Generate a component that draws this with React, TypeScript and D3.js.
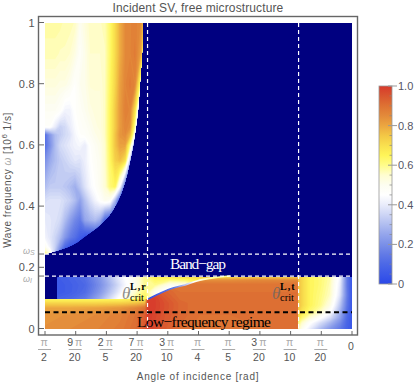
import React from "react";
import * as d3 from "d3";

// angles are in units of pi/20, frequencies in 10^6 1/s
const colorStops = ["#2b48e8", "#3b58e8", "#4c68e6", "#627ae6", "#7b90e8", "#94a5ec", "#b0bdf0", "#cdd5f5", "#e9ecfb", "#ffffff", "#fdfdf0", "#fffdd0", "#fffc8a", "#fff558", "#f9e04f", "#f3c745", "#eca640", "#e38a3a", "#de7233", "#d9562f", "#d8392b"];

const upperAngles = [10, 9.84, 9.67, 9.51, 9.35, 9.19, 9.02, 8.86, 8.7, 8.53, 8.37, 8.21, 8.05, 7.88, 7.72, 7.56, 7.39, 7.23, 7.07, 6.9, 6.71];
const upperFreqs = [1, 0.9, 0.8, 0.715, 0.66, 0.635, 0.6, 0.55, 0.465, 0.42, 0.355, 0.3, 0.268, 0.245];
const upperValues = [
  [.58, .58, .58, .58, .57, .57, .56, .50, .53, .56, .56, .56, .57, .63, .71, .79, .85, .86, .87, .85, .70],
  [.57, .57, .57, .56, .56, .55, .52, .48, .51, .55, .55, .55, .56, .63, .71, .79, .85, .86, .88, .82, .60],
  [.53, .53, .53, .52, .52, .50, .46, .50, .51, .54, .54, .54, .56, .64, .72, .81, .86, .88, .86, .62, .30],
  [.49, .49, .49, .47, .42, .42, .46, .48, .50, .52, .53, .53, .56, .65, .74, .82, .87, .86, .70, .30, .20],
  [.46, .46, .40, .34, .36, .40, .44, .47, .48, .50, .52, .53, .56, .65, .74, .82, .86, .84, .58, .20, .10],
  [.12, .22, .30, .33, .36, .38, .43, .46, .47, .49, .51, .52, .56, .65, .75, .83, .85, .78, .48, .15, .10],
  [.12, .20, .30, .36, .38, .40, .42, .43, .40, .46, .49, .51, .55, .65, .75, .81, .81, .60, .22, .10, .10],
  [.20, .26, .30, .33, .35, .37, .39, .38, .41, .45, .48, .50, .55, .64, .73, .76, .70, .32, .10, .10, .10],
  [.30, .33, .33, .33, .32, .30, .27, .32, .38, .43, .46, .50, .54, .62, .65, .44, .10, .05, .05, .05, .05],
  [.37, .38, .38, .38, .36, .34, .30, .24, .31, .37, .42, .46, .50, .48, .30, .08, .05, .05, .05, .05, .05],
  [.40, .39, .38, .36, .30, .24, .18, .15, .25, .28, .30, .26, .10, .05, .05, .05, .05, .05, .05, .05, .05],
  [.42, .39, .35, .30, .22, .16, .12, .07, .03, .03, .03, .03, .03, .03, .03, .03, .03, .03, .03, .03, .03],
  [.50, .42, .34, .22, .10, .05, .03, .03, .03, .03, .03, .03, .03, .03, .03, .03, .03, .03, .03, .03, .03],
  [.62, .55, .30, .10, .03, .03, .03, .03, .03, .03, .03, .03, .03, .03, .03, .03, .03, .03, .03, .03, .03],
];
// right edge of the upper lobe
const edgeFreqs = [1, 0.9, 0.8, 0.715, 0.66, 0.6, 0.55, 0.465, 0.42, 0.355, 0.3, 0.268, 0.245];
const edgeAngles = [6.81, 6.84, 6.91, 6.97, 7.04, 7.13, 7.23, 7.44, 7.62, 8.05, 8.73, 9.25, 10];

const bandAngles = [9.61, 9.19, 8.7, 8.21, 7.72, 7.39, 7.07, 6.74, 6.42, 5.93, 5.44, 4.95, 4.46, 3.81];
const bandFreqs = [0.17, 0.144, 0.121, 0.098];
const bandValues = [
  [.06, .08, .12, .22, .36, .45, .52, .60, .66, .68, .70, .72, .74, .76],
  [.05, .07, .10, .20, .33, .43, .50, .60, .60, .50, .50, .60, .70, .76],
  [.05, .07, .11, .22, .36, .47, .55, .62, .50, .40, .40, .50, .60, .70],
  [.08, .10, .15, .27, .42, .52, .60, .66, .50, .40, .40, .50, .60, .70],
];

const lowAngles = [10, 9.19, 8.37, 7.56, 7.07, 6.74, 6.645, 6.42, 6.09, 5.6, 4.95, 3.97, 2.83, 1.76];
const lowFreqs = [0.17, 0.16, 0.147, 0.121, 0.098, 0.085, 0.069, 0.046, 0];
const lowValues = [
  [.78, .78, .78, .78, .78, .78, .78, .78, .78, .76, .74, .72, .74, .74],
  [.84, .84, .84, .84, .84, .84, .84, .84, .84, .84, .84, .84, .85, .85],
  [.89, .89, .89, .89, .89, .89, .92, .92, .90, .89, .89, .89, .89, .89],
  [.64, .64, .64, .64, .66, .68, .98, .96, .93, .90, .90, .90, .90, .90],
  [.64, .64, .64, .64, .66, .68, 1, .99, .95, .91, .90, .90, .90, .90],
  [.72, .72, .72, .73, .75, .78, 1, .99, .96, .92, .90, .90, .90, .90],
  [.80, .80, .81, .83, .86, .90, 1, .99, .96, .92, .90, .90, .90, .90],
  [.83, .84, .85, .87, .90, .94, 1, .98, .95, .92, .90, .90, .90, .90],
  [.84, .85, .86, .88, .91, .95, .99, .97, .94, .91, .89, .89, .90, .90],
];
// top of the orange region, right of the first critical angle
const ridgeAngles = [6.64, 6.16, 5.83, 5.44, 5.05, 4.53, 3.97];
const ridgeFreqs = [0.098, 0.121, 0.134, 0.144, 0.157, 0.167, 0.173];

const rightAngles = [1.76, 1.63, 1.37, 1.04, 0.72, 0.39, 0.16, 0];
const rightFreqs = [0.17, 0.144, 0.111, 0.078, 0.056, 0.036, 0.02, 0];
const rightValues = [
  [.76, .72, .65, .62, .58, .42, .15, .05],
  [.77, .72, .65, .62, .57, .40, .15, .05],
  [.77, .72, .65, .61, .56, .38, .16, .05],
  [.77, .72, .65, .60, .52, .32, .14, .05],
  [.75, .69, .62, .56, .46, .28, .12, .05],
  [.70, .62, .54, .46, .37, .24, .10, .05],
  [.62, .55, .46, .37, .29, .19, .09, .05],
  [.58, .50, .40, .30, .22, .15, .08, .05],
];

const critAngles = [6.66, 1.74];
const bandEdges = [0.245, 0.173];
const lowFreqLine = 0.055;

const yTicks = [0, 0.2, 0.4, 0.6, 0.8, 1];
const yTickLabels = ["0", "0.2", "0.4", "0.6", "0.8", "1"];
const xTickAngles = [10, 9, 8, 7, 6, 5, 4, 3, 2, 1];
const xTickNums = ["", "9", "2", "7", "3", "", "", "3", "", ""];
const xTickDens = ["2", "20", "5", "20", "10", "4", "5", "20", "10", "20"];
const barTicks = [0, 0.2, 0.4, 0.6, 0.8, 1];
const barLabels = ["0", "0.2", "0.4", "0.6", "0.8", "1.0"];
const barMinor = [0.05, 0.1, 0.15, 0.25, 0.3, 0.35, 0.45, 0.5, 0.55, 0.65, 0.7, 0.75, 0.85, 0.9, 0.95];

const x = d3.scaleLinear().domain([10, 0]).range([45, 352]);
const y = d3.scaleLinear().domain([0, 1]).range([329, 23]);
const barY = d3.scaleLinear().domain([0, 1]).range([284, 86]);
const color = d3.scaleLinear<string>().domain(colorStops.map((_, i) => i / 20)).range(colorStops).clamp(true);
const levels = d3.range(0, 1, 0.0125);

const SANS = "'Liberation Sans', Arial, sans-serif";
const SERIF = "'Liberation Serif', serif";
const GREY = "#666";
const TXT = "#555";
const PALE = "#aaa";

function Field({ angles, freqs, values, clip }: { angles: number[]; freqs: number[]; values: number[][]; clip: string }) {
  const n = angles.length;
  const m = freqs.length;
  const sx = d3.scaleLinear().domain(d3.range(n)).range(angles.map((a) => x(a))).clamp(true);
  const sy = d3.scaleLinear().domain(d3.range(m)).range(freqs.map((f) => y(f))).clamp(true);
  const path = d3.geoPath(
    d3.geoTransform({
      point(px, py) {
        this.stream.point(sx(px - 0.5), sy(py - 0.5));
      },
    })
  );
  const bands = d3.contours().size([n, m]).thresholds(levels)(values.flat());
  return (
    <g clipPath={`url(#${clip})`}>
      {bands.map((b) => (
        <path key={b.value} d={path(b) ?? ""} fill={color(b.value + 0.006)} />
      ))}
    </g>
  );
}

function Crit({ tx, sup }: { tx: number; sup: string }) {
  return (
    <g fontFamily={SERIF}>
      <text x={tx} y={299} fontSize={17} fontStyle="italic" fill="#666" opacity={0.75}>θ</text>
      <text x={tx + 8} y={290} fontSize={10} fontWeight="bold" letterSpacing={1} fill="#000">{sup}</text>
      <text x={tx + 8} y={301} fontSize={10.5} fill="#000">crit</text>
    </g>
  );
}

export default function App() {
  const upperEdge = d3.line<number>().x((_, i) => x(edgeAngles[i])).y((f) => y(f)).curve(d3.curveMonotoneY)(edgeFreqs) ?? "";
  const upperClip = `${upperEdge}L${x(10)},${y(0.245)}L${x(10)},${y(1)}Z`;
  const ridge = d3.line<number>().x((a) => x(a)).y((_, i) => y(ridgeFreqs[i])).curve(d3.curveMonotoneX)(ridgeAngles) ?? "";
  const lowClip = `M${x(10)},${y(0.098)}L${x(ridgeAngles[0])},${y(0.098)}${ridge.replace(/^M[^CL]*/, "L" + x(ridgeAngles[0]) + "," + y(ridgeFreqs[0]))}L${x(3.97)},${y(0.173)}L${x(1.74)},${y(0.173)}L${x(1.74)},${y(0)}L${x(10)},${y(0)}Z`;

  return (
    <svg width={420} height={385} style={{ position: "absolute", left: 0, top: 0, background: "#fff" }}>
      <defs>
        <clipPath id="upper"><path d={upperClip} /></clipPath>
        <clipPath id="band"><rect x={x(9.61)} y={y(0.17)} width={x(3.81) - x(9.61)} height={y(0.098) - y(0.17)} rx={2} /></clipPath>
        <clipPath id="low"><path d={lowClip} /></clipPath>
        <clipPath id="right"><rect x={x(1.74)} y={y(0.173)} width={x(0) - x(1.74)} height={y(0) - y(0.173)} /></clipPath>
        <linearGradient id="barFill" x1="0" y1="1" x2="0" y2="0">
          {colorStops.map((c, i) => <stop key={i} offset={i / 20} stopColor={c} />)}
        </linearGradient>
        <linearGradient id="streak" gradientUnits="userSpaceOnUse" x1={x(ridgeAngles[0])} y1={0} x2={x(4.5)} y2={0}>
          <stop offset={0} stopColor={color(0.02)} />
          <stop offset={0.4} stopColor={color(0.15)} />
          <stop offset={0.7} stopColor={color(0.45)} />
          <stop offset={1} stopColor={color(0.6)} />
        </linearGradient>
      </defs>

      <text x={198} y={12} textAnchor="middle" fontFamily={SANS} fontSize={12} letterSpacing={0.12} fill={TXT}>Incident SV, free microstructure</text>

      <rect x={x(10)} y={y(1)} width={x(0) - x(10)} height={y(0) - y(1)} fill="#000080" />
      <Field angles={upperAngles} freqs={upperFreqs} values={upperValues} clip="upper" />
      <Field angles={bandAngles} freqs={bandFreqs} values={bandValues} clip="band" />
      <Field angles={lowAngles} freqs={lowFreqs} values={lowValues} clip="low" />
      <path d={ridge} fill="none" stroke="url(#streak)" strokeWidth={1.6} />
      <Field angles={rightAngles} freqs={rightFreqs} values={rightValues} clip="right" />

      {critAngles.map((a) => (
        <line key={a} x1={x(a)} x2={x(a)} y1={y(1)} y2={y(0)} stroke="#fff" strokeWidth={1.2} strokeDasharray="4 3" />
      ))}
      {bandEdges.map((f) => (
        <line key={f} x1={x(10)} x2={x(0)} y1={y(f)} y2={y(f)} stroke="#fff" strokeWidth={1.2} strokeDasharray="4 3" />
      ))}
      <line x1={x(10)} x2={x(0)} y1={y(lowFreqLine)} y2={y(lowFreqLine)} stroke="#000" strokeWidth={2} strokeDasharray="5 3.5" />

      <text x={170} y={269} fontFamily={SERIF} fontSize={15.5} fill="#fff" textLength={56}>Band−gap</text>
      <text x={137} y={327} fontFamily={SERIF} fontSize={15.5} fill="#000" textLength={134}>Low−frequency regime</text>
      <Crit tx={122} sup="L,r" />
      <Crit tx={272} sup="L,t" />

      <rect x={38.5} y={16.5} width={319} height={318.5} fill="none" stroke={GREY} strokeWidth={1.4} />

      <g fontFamily={SANS} fontSize={11} fill={TXT} letterSpacing={0.3}>
        {yTicks.map((t, i) => (
          <g key={t}>
            <line x1={38.5} x2={44} y1={y(t) - 0.5} y2={y(t) - 0.5} stroke={GREY} />
            <text x={35} y={y(t) + 3.5} textAnchor="end">{yTickLabels[i]}</text>
          </g>
        ))}
      </g>
      {bandEdges.map((f, i) => (
        <g key={f}>
          <line x1={38.5} x2={44} y1={y(f)} y2={y(f)} stroke={GREY} />
          <text x={23} y={y(f) + (i === 0 ? 0 : 6)} fontFamily={SANS} fontStyle="italic" fontSize={9} fill={PALE}>ω
            <tspan fontSize={7} dy={1}>{i === 0 ? "S" : "I"}</tspan>
          </text>
        </g>
      ))}

      <g fontFamily={SANS} fontSize={10.5} fill={TXT} textAnchor="middle">
        {xTickAngles.map((a, i) => (
          <g key={a}>
            <line x1={x(a)} x2={x(a)} y1={331} y2={335} stroke={GREY} />
            <text x={x(a) - 1} y={346}>
              {xTickNums[i]}<tspan fill={PALE} dx={xTickNums[i] ? 2 : 0}>π</tspan>
            </text>
            <line x1={x(a) - 7} x2={x(a) + 6} y1={349.5} y2={349.5} stroke="#aaa" />
            <text x={x(a) - 1} y={361}>{xTickDens[i]}</text>
          </g>
        ))}
        <line x1={x(0)} x2={x(0)} y1={331} y2={335} stroke={GREY} />
        <text x={x(0) - 1} y={350}>0</text>
      </g>

      <text x={198} y={380} textAnchor="middle" fontFamily={SANS} fontSize={10} letterSpacing={0.75} fill={TXT}>Angle of incidence [rad]</text>
      <text transform="translate(11,180) rotate(-90)" textAnchor="middle" fontFamily={SANS} fontSize={10} letterSpacing={0.5} fill={TXT}>
        Wave frequency <tspan fill={PALE} fontStyle="italic">ω</tspan> [10<tspan fontSize={8} dy={-4}>6</tspan><tspan dy={4}> 1/s]</tspan>
      </text>

      <rect x={379} y={barY(1)} width={13} height={barY(0) - barY(1)} fill="url(#barFill)" stroke="#999" strokeWidth={0.8} />
      {barMinor.map((t) => (
        <line key={t} x1={389.5} x2={392} y1={barY(t)} y2={barY(t)} stroke="#888" strokeWidth={0.7} />
      ))}
      <g fontFamily={SANS} fontSize={11} fill="#556">
        {barTicks.map((t, i) => (
          <g key={t}>
            <line x1={388} x2={397} y1={barY(t)} y2={barY(t)} stroke="#999" />
            <text x={398} y={barY(t) + 4}>{barLabels[i]}</text>
          </g>
        ))}
      </g>
    </svg>
  );
}
